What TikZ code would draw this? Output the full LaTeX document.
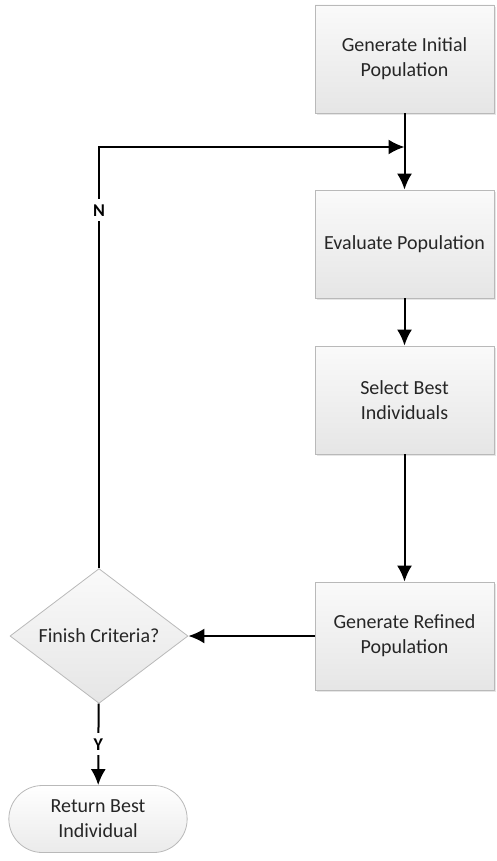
\documentclass[tikz,border=0pt]{standalone}
\usepackage{fontspec}
\setmainfont{Carlito}
\usetikzlibrary{arrows.meta,shapes.geometric,shapes.misc,shadows}
\begin{document}
\begin{tikzpicture}[x=1pt,y=-1pt, >={Latex[length=16pt,width=15pt]}, line width=2pt,
    stepbox/.style={draw=gray!55, line width=0.8pt, top color=gray!4, bottom color=gray!20,
        minimum width=179pt, minimum height=108pt, align=center, text=black!85,
        font=\fontsize{20}{25}\selectfont,
        drop shadow={opacity=0.2, shadow xshift=2pt, shadow yshift=-2pt}},
    decision/.style={diamond, draw=gray!55, line width=0.8pt, top color=gray!4, bottom color=gray!20,
        minimum width=178pt, minimum height=105pt, inner sep=0pt, text=black!85,
        font=\fontsize{20}{25}\selectfont},
    terminal/.style={rounded rectangle, draw=gray!55, line width=0.8pt, top color=white, bottom color=gray!16,
        minimum width=185pt, minimum height=67pt, align=center, text=black!85,
        font=\fontsize{20}{25}\selectfont},
    answer/.style={fill=white, inner sep=5pt, font=\fontsize{18}{20}\selectfont\bfseries}]
    \useasboundingbox (0,0) rectangle (497,861);
    % main column
    \node [stepbox] (init) at (404.5,59) {Generate Initial\\Population};
    \node [stepbox] (eval) at (404.5,244) {Evaluate Population};
    \node [stepbox] (select) at (404.5,400) {Select Best\\Individuals};
    \node [stepbox] (refine) at (404.5,636) {Generate Refined\\Population};
    % decision and end
    \node [decision] (finish) at (99,636) {Finish Criteria?};
    \node [terminal] (best) at (98,819) {Return Best\\Individual};
    \coordinate (join) at (404.5,147);
    \draw [->] (init) -- (eval);
    \draw [->] (eval) -- (select);
    \draw [->] (select) -- (refine);
    \draw [->] (refine) -- (finish);
    \draw [->] (finish) -- node [answer] {Y} (best);
    \draw [->] (finish.north) -- node [answer, pos=0.85] {N} (finish.north |- join) -- (join);
\end{tikzpicture}
\end{document}
